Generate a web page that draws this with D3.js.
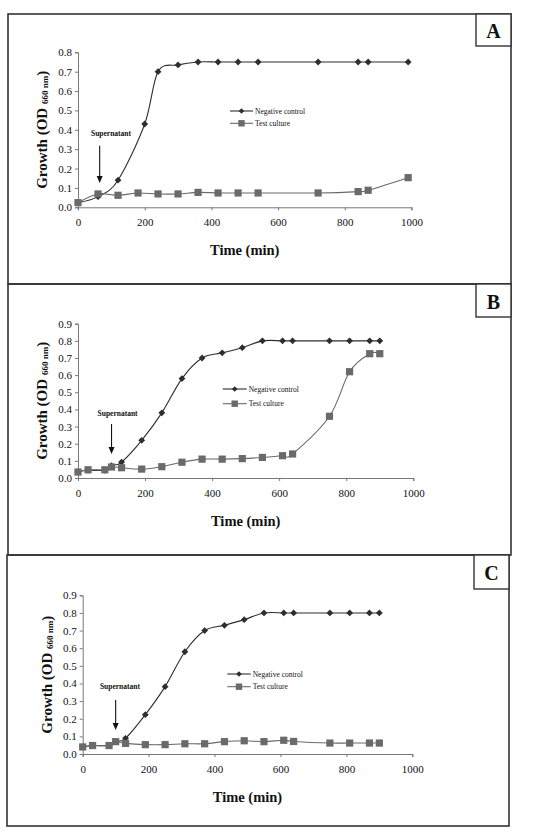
<!DOCTYPE html>
<html><head><meta charset="utf-8">
<script src="https://cdn.jsdelivr.net/npm/d3@7"></script>
<style>body{margin:0;background:#fff} text{font-family:"Liberation Serif","Times New Roman",serif;fill:#111}</style>
</head><body><svg id="c" width="553" height="835"></svg>
<script>
// ---------- data ----------
const timeA_neg = [0,60,120,200,240,300,360,420,480,540,720,840,870,990];
const negA = [0.024,0.055,0.14,0.43,0.70,0.735,0.75,0.75,0.75,0.75,0.75,0.75,0.75,0.75];
const timeA_test = [0,60,120,180,240,300,360,420,480,540,720,840,870,990];
const testA = [0.024,0.069,0.062,0.074,0.069,0.069,0.077,0.074,0.074,0.074,0.074,0.081,0.088,0.153];

const timeBC = [0,30,80,100,130,190,250,310,370,430,490,550,610,640,750,810,870,900];
const negB = [0.035,0.045,0.045,0.072,0.093,0.22,0.38,0.58,0.70,0.73,0.76,0.80,0.80,0.80,0.80,0.80,0.80,0.80];
const testB = [0.035,0.048,0.048,0.064,0.06,0.052,0.066,0.092,0.11,0.11,0.113,0.12,0.13,0.14,0.36,0.62,0.725,0.725];
const negC = [0.04,0.048,0.048,0.07,0.089,0.223,0.382,0.58,0.70,0.73,0.762,0.80,0.80,0.80,0.80,0.80,0.80,0.80];
const testC = [0.04,0.048,0.048,0.07,0.06,0.053,0.053,0.058,0.058,0.07,0.075,0.07,0.078,0.071,0.062,0.062,0.062,0.062];

const xTicks = [0,200,400,600,800,1000];
const yTicksA = [0,0.1,0.2,0.3,0.4,0.5,0.6,0.7,0.8];
const yTicksBC = [0,0.1,0.2,0.3,0.4,0.5,0.6,0.7,0.8,0.9];
const panelLabels = ["A","B","C"];
const seriesNames = ["Negative control","Test culture"];
const xTitle = "Time (min)";
const annotText = "Supernatant";
// supernatant arrow (data coords): x, arrow top, arrow tip, label x, label y
const arrowX = [65,100,100];
const arrowTop = [0.318,0.315,0.306];
const arrowTip = [0.125,0.14,0.136];
const labelX = [99,118,113];
const labelY = [0.37,0.36,0.37];

// ---------- layout ----------
const panels = [
  {frame:[8,14,503,270], box:[476,14,35,32], plot:{l:78,r:411.5,b:207.3,t:52.3}, ymax:0.8, yTicks:yTicksA,
   neg:{t:timeA_neg,v:negA}, test:{t:timeA_test,v:testA}, leg:{x1:230,x2:253,y1:111,y2:123.3}},
  {frame:[8,284,503,271], box:[476,284,35,33], plot:{l:78,r:413.3,b:478,t:323.7}, ymax:0.9, yTicks:yTicksBC,
   neg:{t:timeBC,v:negB}, test:{t:timeBC,v:testB}, leg:{x1:222.7,x2:246.7,y1:389,y2:403.7}},
  {frame:[7,555,502,271], box:[474,555,35,34], plot:{l:82.7,r:412.3,b:754,t:595.3}, ymax:0.9, yTicks:yTicksBC,
   neg:{t:timeBC,v:negC}, test:{t:timeBC,v:testC}, leg:{x1:227.3,x2:250.7,y1:674,y2:686.7}}
];

const svg = d3.select("#c");
const negColor = "#2e2e2e", testColor = "#6a6a6a";
const diamond = s => `M0,${-s}L${s},0L0,${s}L${-s},0Z`;

panels.forEach((p,i) => {
  const g = svg.append("g");
  const [fx,fy,fw,fh] = p.frame;
  g.append("rect").attr("x",fx).attr("y",fy).attr("width",fw).attr("height",fh)
    .attr("fill","none").attr("stroke","#333").attr("stroke-width",1.6);
  const [bx,by,bw,bh] = p.box;
  g.append("rect").attr("x",bx).attr("y",by).attr("width",bw).attr("height",bh)
    .attr("fill","#fff").attr("stroke","#333").attr("stroke-width",1.4);
  g.append("text").attr("x",bx+bw/2).attr("y",by+bh/2+1).attr("text-anchor","middle")
    .attr("dominant-baseline","central").attr("font-size",20).attr("font-weight","bold").text(panelLabels[i]);

  const x = d3.scaleLinear().domain([0,1000]).range([p.plot.l,p.plot.r]);
  const y = d3.scaleLinear().domain([0,p.ymax]).range([p.plot.b,p.plot.t]);

  // axes
  const xa = g.append("g").attr("transform",`translate(0,${p.plot.b})`)
    .call(d3.axisBottom(x).tickValues(xTicks).tickSize(3).tickPadding(8).tickFormat(d3.format("d")));
  const ya = g.append("g").attr("transform",`translate(${p.plot.l},0)`)
    .call(d3.axisLeft(y).tickValues(p.yTicks).tickSize(3).tickPadding(3).tickFormat(d3.format(".1f")));
  [xa,ya].forEach(a => {
    a.select(".domain").attr("stroke","#777").attr("stroke-width",1);
    a.selectAll(".tick line").attr("stroke","#777");
    a.selectAll(".tick text").attr("font-size",11).attr("fill","#111")
      .attr("font-family",'"Liberation Serif","Times New Roman",serif');
  });

  // titles
  g.append("text").attr("x",(p.plot.l+p.plot.r)/2).attr("y",p.plot.b+43).attr("text-anchor","middle")
    .attr("dominant-baseline","central").attr("font-size",14.5).attr("font-weight","bold").text(xTitle);
  const yt = g.append("text").attr("transform",`translate(${p.plot.l-36},${(p.plot.b+p.plot.t)/2}) rotate(-90)`)
    .attr("text-anchor","middle").attr("dominant-baseline","central").attr("font-size",15).attr("font-weight","bold");
  yt.append("tspan").text("Growth (OD ");
  yt.append("tspan").attr("font-size",9).attr("dy",3).text("660 nm");
  yt.append("tspan").attr("dy",-3).text(")");

  // lines
  const line = d3.line().x(d=>x(d[0])).y(d=>y(d[1])).curve(d3.curveCardinal.tension(0));
  const negPts = p.neg.t.map((t,k)=>[t,p.neg.v[k]]);
  const testPts = p.test.t.map((t,k)=>[t,p.test.v[k]]);
  g.append("path").datum(negPts).attr("d",line).attr("fill","none").attr("stroke",negColor).attr("stroke-width",1.1);
  g.append("path").datum(testPts).attr("d",line).attr("fill","none").attr("stroke",testColor).attr("stroke-width",1.1);
  g.selectAll(".dm").data(negPts).enter().append("path")
    .attr("transform",d=>`translate(${x(d[0])},${y(d[1])})`).attr("d",diamond(3.4)).attr("fill",negColor);
  g.selectAll(".sq").data(testPts).enter().append("rect")
    .attr("x",d=>x(d[0])-3.6).attr("y",d=>y(d[1])-3.6).attr("width",7.2).attr("height",7.2).attr("fill",testColor);

  // legend
  const L = p.leg, lm = (L.x1+L.x2)/2;
  g.append("line").attr("x1",L.x1).attr("x2",L.x2).attr("y1",L.y1).attr("y2",L.y1).attr("stroke",negColor).attr("stroke-width",1.1);
  g.append("path").attr("transform",`translate(${lm},${L.y1})`).attr("d",diamond(2.8)).attr("fill",negColor);
  g.append("line").attr("x1",L.x1).attr("x2",L.x2).attr("y1",L.y2).attr("y2",L.y2).attr("stroke",testColor).attr("stroke-width",1.1);
  g.append("rect").attr("x",lm-3.2).attr("y",L.y2-3.2).attr("width",6.4).attr("height",6.4).attr("fill",testColor);
  g.append("text").attr("x",L.x2+2).attr("y",L.y1).attr("dominant-baseline","central").attr("font-size",7.5).text(seriesNames[0]);
  g.append("text").attr("x",L.x2+2).attr("y",L.y2).attr("dominant-baseline","central").attr("font-size",7.5).text(seriesNames[1]);

  // supernatant annotation
  g.append("text").attr("x",x(labelX[i])).attr("y",y(labelY[i])).attr("text-anchor","middle")
    .attr("font-size",7.5).attr("font-weight","bold").text(annotText);
  const ax = x(arrowX[i]), at = y(arrowTop[i]), ap = y(arrowTip[i]);
  g.append("line").attr("x1",ax).attr("x2",ax).attr("y1",at).attr("y2",ap-5).attr("stroke","#111").attr("stroke-width",1.1);
  g.append("path").attr("d",`M${ax-3},${ap-7}L${ax+3},${ap-7}L${ax},${ap}Z`).attr("fill","#111");
});
</script>
</body></html>
